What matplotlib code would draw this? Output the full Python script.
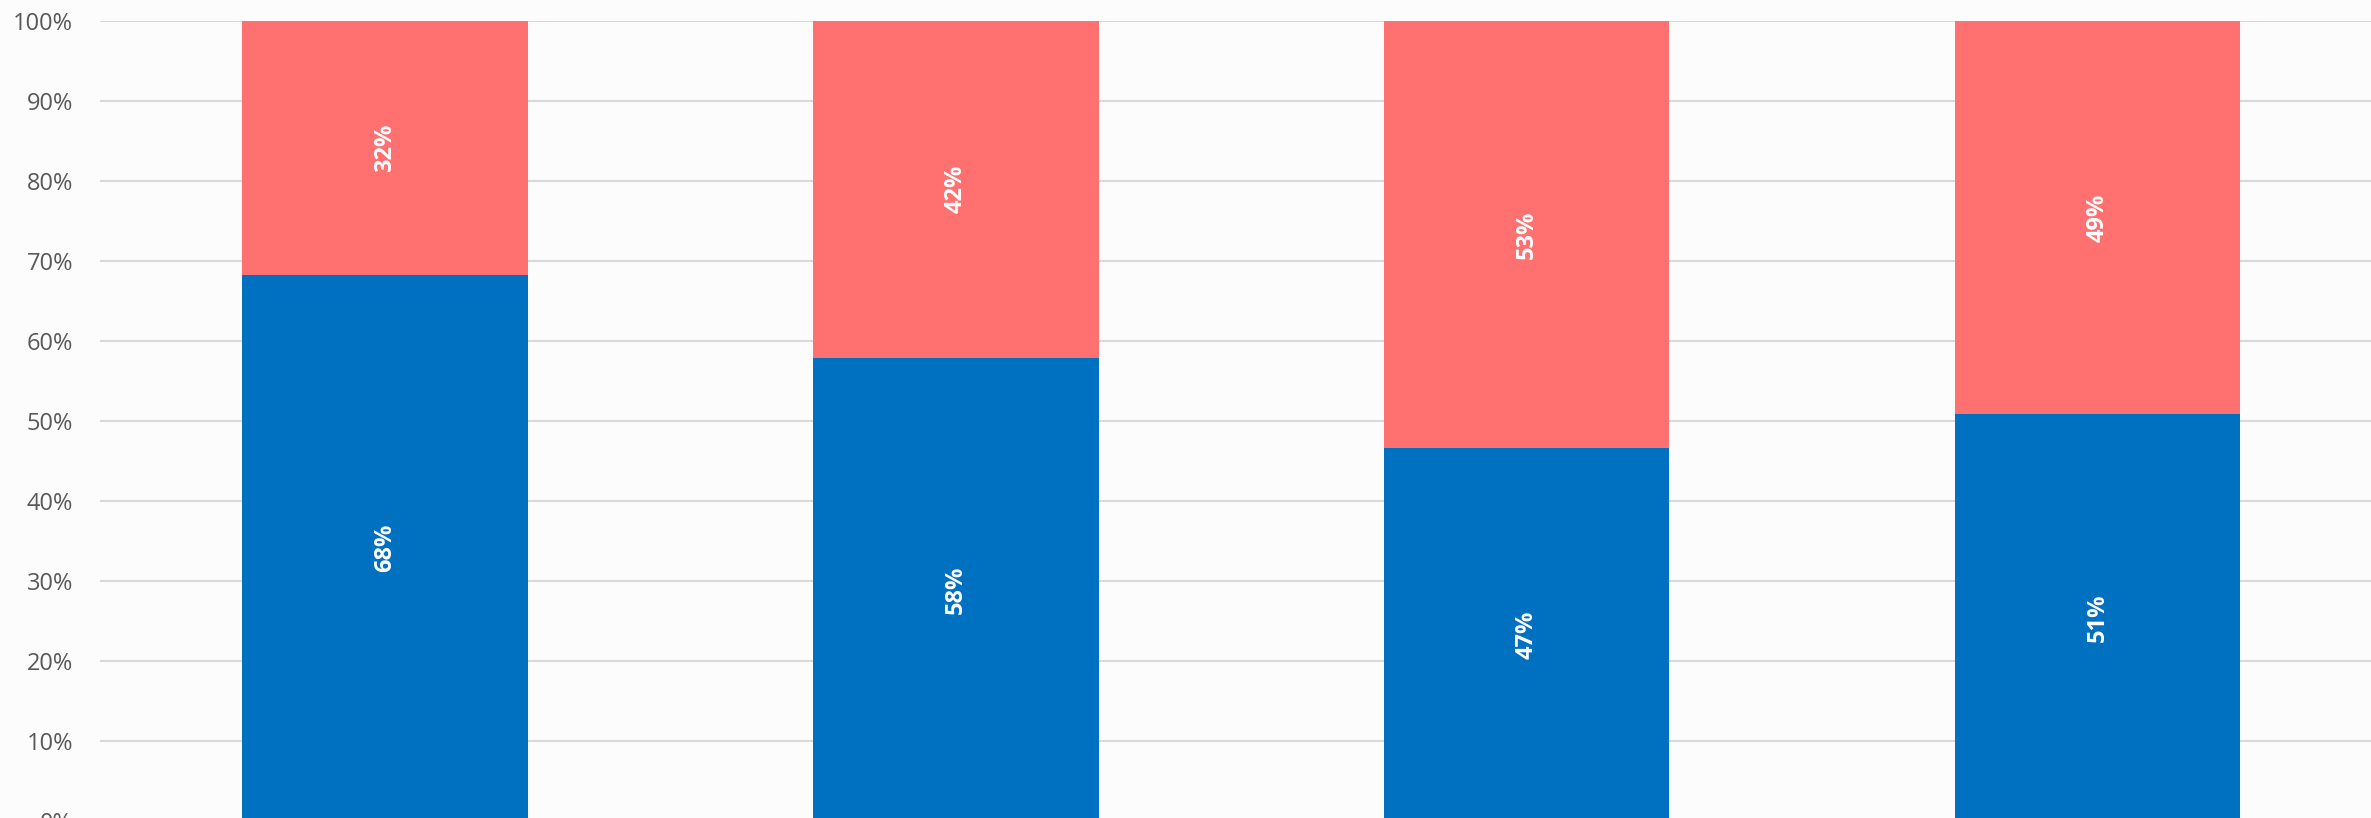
import matplotlib.pyplot as plt
import numpy as np

# stacked 100% columns, four groups
categories = ["A", "B", "C", "D"]
blue_vals = [68.2, 57.9, 46.6, 50.8]
red_vals = [100 - v for v in blue_vals]
blue_labels = ["68%", "58%", "47%", "51%"]
red_labels = ["32%", "42%", "53%", "49%"]
yticks = [0, 10, 20, 30, 40, 50, 60, 70, 80, 90, 100]

plt.rcParams['font.family'] = ['Open Sans', 'DejaVu Sans']

fig = plt.figure(figsize=(23.71, 8.18), dpi=100, facecolor='#FCFCFC')
# plot area runs slightly past the right and bottom edges (chart is cropped)
ax = fig.add_axes([0.042, -0.0037, 0.963, 0.9784])
ax.set_facecolor('#FCFCFC')

x = np.arange(len(categories))
b1 = ax.bar(x, blue_vals, width=0.5, color='#0070C0', zorder=3)
b2 = ax.bar(x, red_vals, width=0.5, bottom=blue_vals, color='#FF7070', zorder=3)

ax.bar_label(b1, labels=blue_labels, label_type='center', rotation=90,
             color='white', fontsize=17, fontweight='bold')
ax.bar_label(b2, labels=red_labels, label_type='center', rotation=90,
             color='white', fontsize=17, fontweight='bold')

ax.set_xlim(-0.5, 3.5)
ax.set_ylim(0, 100)
ax.set_yticks(yticks)
ax.set_yticklabels([f"{t}%" for t in yticks])
ax.tick_params(axis='y', length=0, pad=19, labelsize=17, labelcolor='#595959')
ax.tick_params(axis='x', length=0, labelbottom=False)
ax.yaxis.grid(True, color='#D9D9D9', linewidth=1.5, zorder=0)
ax.set_axisbelow(True)
for s in ax.spines.values():
    s.set_visible(False)

fig.savefig('out.png', dpi=100, facecolor=fig.get_facecolor())
